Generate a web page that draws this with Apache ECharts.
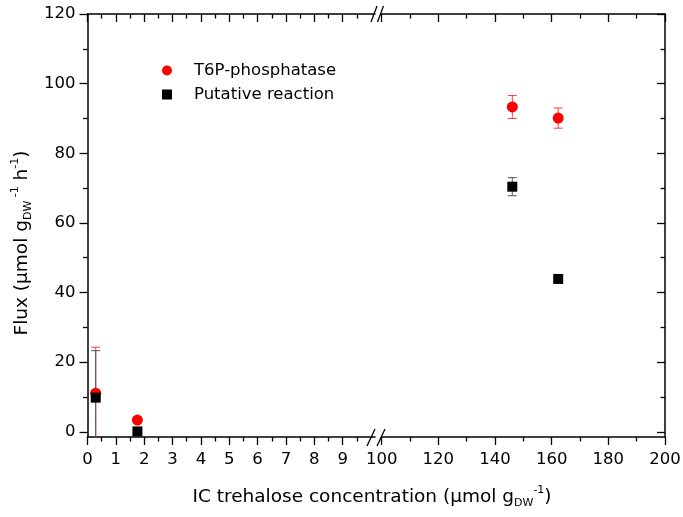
<!DOCTYPE html>
<html>
<head>
<meta charset="utf-8">
<script src="https://cdn.jsdelivr.net/npm/echarts@6/dist/echarts.min.js"></script>
<style>html,body{margin:0;padding:0;background:#fff}#c{width:683px;height:517px}</style>
</head>
<body>
<div id="c"></div>
<script>
// ---- data ----
const t6pX   = [0.29, 1.76, 146.1, 162.3];
const t6pY   = [11.1, 3.35, 93.3, 90.1];
const t6pErr = [13.2, 0, 3.3, 2.9];
const putX   = [0.29, 1.76, 146.1, 162.3];
const putY   = [9.8, 0.1, 70.4, 43.9];
const putErr = [13.5, 0, 2.6, 0];

const leftMajor  = [0,1,2,3,4,5,6,7,8,9];
const leftMinor  = [0.5,1.5,2.5,3.5,4.5,5.5,6.5,7.5,8.5,9.5];
const rightMajor = [100,120,140,160,180,200];
const rightMinor = [110,130,150,170,190];
const yMajor     = [0,20,40,60,80,100,120];
const yMinor     = [10,30,50,70,90,110];

const seriesNames = ['T6P-phosphatase', 'Putative reaction'];
const xTitle = 'IC trehalose concentration (μmol g';
const yTitle = 'Flux (μmol g';

// ---- build ----
const FONT = '"DejaVu Sans", "Liberation Sans", Arial, sans-serif';
const BREAK = 10;
const chart = echarts.init(document.getElementById('c'), null, {renderer: 'canvas'});

const lineStyle = {color: '#000', width: 1.5};
function xAxis(grid, pos, min, max, ticks, len, showLine, labels, inside) {
  return {
    type: 'value', gridIndex: grid, position: pos, min: min, max: max,
    axisLine: {show: showLine, onZero: false, lineStyle: lineStyle},
    axisTick: {show: true, inside: inside, length: len, customValues: ticks, lineStyle: {color: '#000', width: 1.3}},
    axisLabel: labels ? {show: true, customValues: labels, margin: 14, color: '#000', fontSize: 16.5, fontFamily: FONT} : {show: false},
    splitLine: {show: false}
  };
}
function yAxis(grid, pos, ticks, len, showLine, labels, inside) {
  return {
    type: 'value', gridIndex: grid, position: pos, min: -1.5, max: 120,
    axisLine: {show: showLine, onZero: false, lineStyle: lineStyle},
    axisTick: {show: true, inside: inside, length: len, customValues: ticks, lineStyle: {color: '#000', width: 1.3}},
    axisLabel: labels ? {show: true, customValues: labels, margin: 12, color: '#000', fontSize: 16.5, fontFamily: FONT} : {show: false},
    splitLine: {show: false}
  };
}

const xAxes = [
  xAxis(0, 'bottom', 0, 10.14, leftMajor, 8, true, leftMajor, false),   // 0
  xAxis(0, 'bottom', 0, 10.14, leftMinor, 4.5, false, null, false),     // 1
  xAxis(0, 'top', 0, 10.14, leftMajor, 8, true, null, true),            // 2
  xAxis(0, 'top', 0, 10.14, leftMinor, 4.5, false, null, true),         // 3
  xAxis(1, 'bottom', 100, 200, rightMajor, 8, true, rightMajor, false), // 4
  xAxis(1, 'bottom', 100, 200, rightMinor, 4.5, false, null, false),    // 5
  xAxis(1, 'top', 100, 200, rightMajor, 8, true, null, true),           // 6
  xAxis(1, 'top', 100, 200, rightMinor, 4.5, false, null, true)         // 7
];
const yAxes = [
  yAxis(0, 'left', yMajor, 8, true, yMajor, false),   // 0
  yAxis(0, 'left', yMinor, 4.5, false, null, false),  // 1
  yAxis(1, 'right', yMajor, 8, true, null, true),     // 2
  yAxis(1, 'right', yMinor, 4.5, false, null, true)   // 3
];

function pts(xs, ys, left) {
  const out = [];
  xs.forEach((x, i) => { if ((x <= BREAK) === left) out.push([x, ys[i]]); });
  return out;
}
function errs(xs, ys, es, left) {
  const out = [];
  xs.forEach((x, i) => { if (es[i] > 0 && (x <= BREAK) === left) out.push([x, ys[i] - es[i], ys[i] + es[i]]); });
  return out;
}
function errRender(color) {
  return function (params, api) {
    const x = api.value(0);
    const pLo = api.coord([x, api.value(1)]);
    const pHi = api.coord([x, api.value(2)]);
    const w = 4.5;
    const st = {stroke: color, lineWidth: 1};
    return {type: 'group', children: [
      {type: 'line', shape: {x1: pLo[0], y1: pLo[1], x2: pHi[0], y2: pHi[1]}, style: st},
      {type: 'line', shape: {x1: pHi[0] - w, y1: pHi[1], x2: pHi[0] + w, y2: pHi[1]}, style: st},
      {type: 'line', shape: {x1: pLo[0] - w, y1: pLo[1], x2: pLo[0] + w, y2: pLo[1]}, style: st}
    ]};
  };
}

const series = [];
[true, false].forEach(left => {
  const xi = left ? 0 : 4, yi = left ? 0 : 2;
  series.push({type: 'custom', xAxisIndex: xi, yAxisIndex: yi, clip: true, silent: true,
    renderItem: errRender('#ff3b3b'), data: errs(t6pX, t6pY, t6pErr, left), z: 2});
  series.push({type: 'custom', xAxisIndex: xi, yAxisIndex: yi, clip: true, silent: true,
    renderItem: errRender('#555'), data: errs(putX, putY, putErr, left), z: 2});
  series.push({type: 'scatter', name: seriesNames[0], xAxisIndex: xi, yAxisIndex: yi,
    symbol: 'circle', symbolSize: 11, itemStyle: {color: '#ff0000', opacity: 1},
    data: pts(t6pX, t6pY, left), z: 3});
  series.push({type: 'scatter', name: seriesNames[1], xAxisIndex: xi, yAxisIndex: yi,
    symbol: 'rect', symbolSize: 10, itemStyle: {color: '#000', opacity: 1},
    data: pts(putX, putY, left), z: 4});
});

const rich = {
  n:   {fontSize: 18.5, fontFamily: FONT, fill: '#000', lineHeight: 30},
  sub: {fontSize: 11, fontFamily: FONT, fill: '#000', lineHeight: 30, verticalAlign: 'bottom', padding: [0,0,3,0]},
  sup: {fontSize: 11, fontFamily: FONT, fill: '#000', lineHeight: 30, verticalAlign: 'top', padding: [3,0,0,0]}
};
const brk = {stroke: '#000', lineWidth: 1.3};
chart.setOption({
  animation: false,
  backgroundColor: '#fff',
  grid: [
    {left: 87.5, top: 14, width: 287.5, height: 423, outerBoundsMode: 'none', containLabel: false},
    {left: 381.7, top: 14, width: 283.3, height: 423, outerBoundsMode: 'none', containLabel: false}
  ],
  xAxis: xAxes,
  yAxis: yAxes,
  legend: {
    orient: 'vertical', left: 162, top: 62, padding: 0, itemGap: 7,
    itemWidth: 10, itemHeight: 10,
    textStyle: {color: '#000', fontSize: 16.5, fontFamily: FONT, lineHeight: 16, padding: [0,0,0,17]},
    data: [{name: seriesNames[0], icon: 'circle'}, {name: seriesNames[1], icon: 'rect'}],
    selectedMode: false
  },
  graphic: [
    {type: 'line', shape: {x1: 371, y1: 22, x2: 377, y2: 6}, style: brk},
    {type: 'line', shape: {x1: 377.5, y1: 22, x2: 383.5, y2: 6}, style: brk},
    {type: 'line', shape: {x1: 367, y1: 446, x2: 375, y2: 429}, style: brk},
    {type: 'line', shape: {x1: 377, y1: 446, x2: 385, y2: 429}, style: brk},
    {type: 'text', x: 372, y: 497,
      style: {text: '{n|' + xTitle + '}{sub|DW}{sup|-1}{n|)}', align: 'center', verticalAlign: 'middle', rich: rich}
    },
    {type: 'text', x: 22, y: 243, rotation: Math.PI / 2,
      style: {text: '{n|' + yTitle + '}{sub|DW}{sup| -1}{n| h}{sup|-1}{n|)}', align: 'center', verticalAlign: 'middle', rich: rich}
    }
  ],
  series: series
});
</script>
</body>
</html>
